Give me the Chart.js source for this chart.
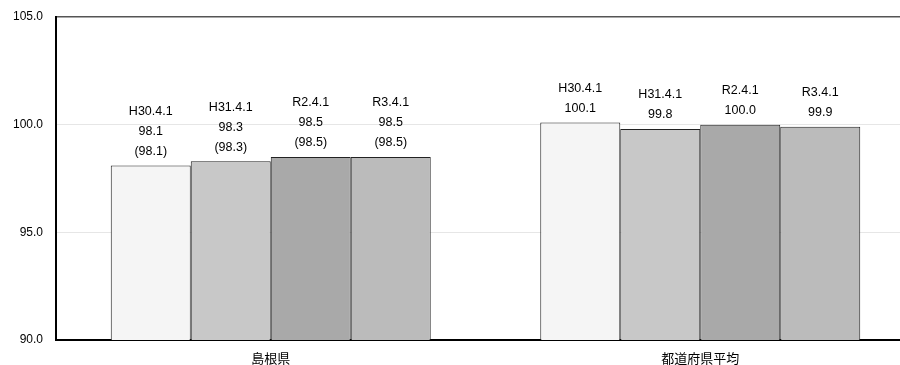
<!DOCTYPE html>
<html>
<head>
<meta charset="utf-8">
<script src="https://cdn.jsdelivr.net/npm/chart.js@4"></script>
<style>
  html, body { margin: 0; padding: 0; background: #fff; overflow: hidden; }
  #wrap { width: 915px; height: 365px; }
</style>
</head>
<body>
<div id="wrap"><canvas id="bars"></canvas></div>
<script>
// Data
const categories = ['島根県', '都道府県平均'];
const seriesNames = ['H30.4.1', 'H31.4.1', 'R2.4.1', 'R3.4.1'];
const h30 = [98.1, 100.1];
const h31 = [98.3, 99.8];
const r2 = [98.5, 100.0];
const r3 = [98.5, 99.9];
// bracketed values shown under 島根県 only
const h30Paren = [98.1, null];
const h31Paren = [98.3, null];
const r2Paren = [98.5, null];
const r3Paren = [98.5, null];
const yTicks = [90, 95, 100, 105];

const fills = ['#f5f5f5', '#c8c8c8', '#a9a9a9', '#bbbbbb'];
const seriesValues = [h30, h31, r2, r3];
const seriesParens = [h30Paren, h31Paren, r2Paren, r3Paren];

// draws the label stack above each bar
const barLabels = {
  id: 'barLabels',
  afterDatasetsDraw(chart) {
    const ctx = chart.ctx;
    ctx.save();
    ctx.fillStyle = '#000';
    ctx.font = '12.5px "Liberation Sans", Arial, sans-serif';
    ctx.textAlign = 'center';
    ctx.textBaseline = 'middle';
    chart.data.datasets.forEach((ds, i) => {
      chart.getDatasetMeta(i).data.forEach((bar, j) => {
        const lines = [ds.label, ds.data[j].toFixed(1)];
        const p = seriesParens[i][j];
        if (p !== null) lines.push('(' + p.toFixed(1) + ')');
        let y = bar.y - 14;
        for (let k = lines.length - 1; k >= 0; k--) {
          ctx.fillText(lines[k], bar.x, y);
          y -= 20;
        }
      });
    });
    ctx.restore();
  }
};

const chartData = {
  labels: categories,
  datasets: seriesNames.map((name, i) => ({
    label: name,
    data: seriesValues[i],
    backgroundColor: fills[i],
    borderColor: '#222',
    borderWidth: 1,
    categoryPercentage: 0.745,
    barPercentage: 1.0
  }))
};

const config = {
  type: 'bar',
  data: chartData,
  plugins: [barLabels],
  options: {
    responsive: true,
    maintainAspectRatio: false,
    animation: false,
    layout: { padding: { top: 17, left: 0, right: 0, bottom: 0 } },
    plugins: {
      legend: { display: false },
      tooltip: { enabled: false }
    },
    scales: {
      x: {
        grid: { display: false, drawTicks: false },
        border: { color: '#000', width: 2 },
        ticks: {
          color: '#000',
          padding: 10,
          font: { family: '"Noto Sans CJK JP", sans-serif', size: 13 }
        },
        afterFit: (scale) => { scale.height = 25; }
      },
      y: {
        min: 90,
        max: 105,
        afterBuildTicks: (scale) => { scale.ticks = yTicks.map(v => ({ value: v })); },
        grid: {
          drawTicks: false,
          color: (c) => c.tick && c.tick.value === 105 ? '#555' : '#e6e6e6',
          lineWidth: (c) => c.tick && c.tick.value === 105 ? 1.5 : 1
        },
        border: { color: '#000', width: 2 },
        ticks: {
          color: '#000',
          padding: 13,
          font: { family: '"Liberation Sans", Arial, sans-serif', size: 12 },
          callback: (v) => Number(v).toFixed(1)
        },
        afterFit: (scale) => {
          scale.width = 56;
          scale.paddingTop = 0;
          scale.paddingBottom = 0;
        }
      }
    }
  }
};

const barChart = new Chart(document.getElementById('bars'), config);
</script>
</body>
</html>
